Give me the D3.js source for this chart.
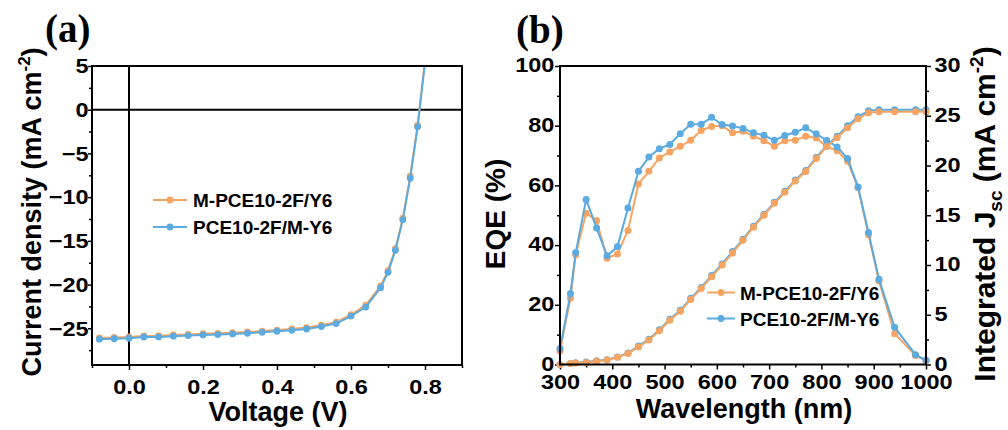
<!DOCTYPE html>
<meta charset="utf-8">
<style>
body { margin: 0; background: #fff; }
text { font-family: Arial, "Liberation Sans", sans-serif; font-weight: bold; fill: #000; }
.tick line { stroke: #000; stroke-width: 1.5px; }
.tick text { font-size: 21px; }
.domain { display: none; }
.frame { fill: none; stroke: #000; stroke-width: 2px; }
.curve { fill: none; stroke-width: 2px; }
</style>
<body>
<script src="https://d3js.org/d3.v7.min.js"></script>
<script>

// ---- data: J-V curves (panel a)
var voltage = [-0.08, -0.04, 0, 0.04, 0.08, 0.12, 0.16, 0.20, 0.24, 0.28, 0.32, 0.36, 0.40,
               0.44, 0.48, 0.52, 0.56, 0.60, 0.64, 0.68, 0.70, 0.72, 0.74, 0.76, 0.78, 0.80];
var jvOrange = [-26.1, -26.05, -26.0, -25.88, -25.85, -25.76, -25.7, -25.62, -25.58, -25.5, -25.42, -25.32, -25.2,
                -25.08, -24.92, -24.65, -24.3, -23.45, -22.35, -20.15, -18.4, -15.9, -12.4, -7.6, -1.8, 5.6];
var jvBlue = [-26.25, -26.2, -26.14, -26.0, -25.99, -25.9, -25.83, -25.76, -25.72, -25.65, -25.57, -25.46, -25.34,
              -25.23, -25.08, -24.8, -24.46, -23.6, -22.57, -20.36, -18.6, -16.08, -12.6, -7.84, -1.96, 5.4];

// ---- data: EQE and integrated Jsc (panel b)
var wavelength = [300, 320, 330, 350, 370, 390, 410, 430, 450, 470, 490, 510, 530, 550, 570, 590, 610, 630,
                  650, 670, 690, 710, 730, 750, 770, 790, 810, 830, 850, 870, 890, 910, 940, 980, 1000];
var eqeOrange = [4.5, 22.2, 36.8, 50.7, 48.2, 35.6, 37.0, 44.9, 60.5, 64.7, 69.2, 71.2, 73.1, 75.1, 78.4, 79.7, 80.0, 77.6,
                 78.1, 76.5, 75.0, 73.1, 75.0, 75.1, 76.5, 75.9, 73.1, 71.6, 68.1, 59.2, 43.5, 28.0, 10.3, 3.0, 1.2];
var eqeBlue = [5.4, 23.8, 37.5, 55.3, 45.7, 36.4, 39.5, 52.4, 64.7, 69.5, 72.3, 73.7, 77.3, 80.5, 80.5, 82.8, 80.4, 79.9,
               79.1, 77.6, 76.8, 75.1, 76.7, 77.8, 79.3, 77.3, 75.1, 72.9, 69.0, 59.5, 44.2, 28.6, 12.5, 3.3, 1.4];
var jscOrange = [0, 0.1, 0.15, 0.2, 0.33, 0.45, 0.73, 1.1, 1.77, 2.45, 3.4, 4.45, 5.36, 6.54, 7.64, 8.81, 9.99, 11.2,
                 12.5, 13.8, 15.0, 16.2, 17.3, 18.45, 19.4, 20.7, 21.9, 22.8, 23.8, 24.7, 25.3, 25.4, 25.4, 25.4, 25.4];
var jscBlue = [0, 0.1, 0.17, 0.25, 0.37, 0.48, 0.76, 1.15, 1.85, 2.55, 3.5, 4.55, 5.45, 6.65, 7.75, 8.95, 10.1, 11.35,
               12.6, 13.9, 15.1, 16.3, 17.4, 18.55, 19.5, 20.8, 22.0, 22.95, 24.0, 24.9, 25.5, 25.6, 25.6, 25.6, 25.6];

var seriesNames = ["M-PCE10-2F/Y6", "PCE10-2F/M-Y6"];
var orange = "#F6A462", blue = "#5BAAE0";

// ---- tick values
var xTicksA = [0, 0.2, 0.4, 0.6, 0.8], xMinorA = [-0.1, 0.1, 0.3, 0.5, 0.7, 0.9];
var yTicksA = [5, 0, -5, -10, -15, -20, -25], yMinorA = [2.5, -2.5, -7.5, -12.5, -17.5, -22.5, -27.5];
var xTicksB = [300, 400, 500, 600, 700, 800, 900, 1000], xMinorB = [350, 450, 550, 650, 750, 850, 950];
var yTicksB = [0, 20, 40, 60, 80, 100], yMinorB = [10, 30, 50, 70, 90];
var y2TicksB = [0, 5, 10, 15, 20, 25, 30], y2MinorB = [2.5, 7.5, 12.5, 17.5, 22.5, 27.5];

var svg = d3.select("body").append("svg")
    .attr("width", 1008)
    .attr("height", 430);

// tick labels in the reference are a bit wider than Arial
function widen(sel) { sel.selectAll("text").attr("transform", "scale(1.12,1)"); }

// ================= panel (a) =================
var xa = d3.scaleLinear().domain([-0.1, 0.9]).range([92, 462]);
var ya = d3.scaleLinear().domain([-29.2, 5]).range([365, 66]);

svg.append("clipPath").attr("id", "clipA")
  .append("rect").attr("x", 92).attr("y", 66).attr("width", 370).attr("height", 299);

// minor + major ticks
svg.append("g").attr("transform", "translate(0,365)")
    .call(d3.axisBottom(xa).tickValues(xMinorA).tickSize(3).tickFormat(""));
svg.append("g").attr("transform", "translate(0,365)")
    .call(d3.axisBottom(xa).tickValues(xTicksA).tickSize(5).tickPadding(9).tickFormat(d3.format(".1f")))
    .call(widen);
svg.append("g").attr("transform", "translate(92,0)")
    .call(d3.axisLeft(ya).tickValues(yMinorA).tickSize(3).tickFormat(""));
svg.append("g").attr("transform", "translate(92,0)")
    .call(d3.axisLeft(ya).tickValues(yTicksA).tickSize(4).tickFormat(d3.format("d")))
    .call(widen)
    .selectAll("text").attr("x", -3);

// zero lines
svg.append("line").attr("x1", xa(0)).attr("x2", xa(0)).attr("y1", 66).attr("y2", 365)
    .attr("stroke", "#000").attr("stroke-width", 2);
svg.append("line").attr("x1", 92).attr("x2", 462).attr("y1", ya(0)).attr("y2", ya(0))
    .attr("stroke", "#000").attr("stroke-width", 2);

var lineA = function(vals) {
  return d3.line().x(function(d, i) { return xa(voltage[i]); }).y(function(d) { return ya(d); })(vals);
};
[[jvOrange, orange], [jvBlue, blue]].forEach(function(s) {
  var g = svg.append("g").attr("clip-path", "url(#clipA)");
  g.append("path").attr("class", "curve").attr("stroke", s[1]).attr("d", lineA(s[0]));
  g.selectAll("circle").data(s[0]).enter().append("circle")
      .attr("cx", function(d, i) { return xa(voltage[i]); })
      .attr("cy", function(d) { return ya(d); })
      .attr("r", 3.4).attr("fill", s[1]);
});

svg.append("rect").attr("class", "frame").attr("x", 92).attr("y", 66).attr("width", 370).attr("height", 299);

// legend (a)
[orange, blue].forEach(function(c, i) {
  var yy = 200 + i * 27;
  svg.append("line").attr("x1", 153).attr("x2", 187).attr("y1", yy).attr("y2", yy)
      .attr("stroke", c).attr("stroke-width", 2);
  svg.append("circle").attr("cx", 170).attr("cy", yy).attr("r", 3.4).attr("fill", c);
  svg.append("text").attr("x", 193).attr("y", yy + 7).style("font-size", "19px").text(seriesNames[i]);
});

// labels (a)
svg.append("text").attr("x", 278).attr("y", 421).attr("text-anchor", "middle")
    .style("font-size", "27px").text("Voltage (V)");
var ylabA = svg.append("text").attr("transform", "translate(41,212) rotate(-90)")
    .attr("text-anchor", "middle").style("font-size", "27px");
ylabA.append("tspan").text("Current density (mA cm");
ylabA.append("tspan").attr("dy", -11).style("font-size", "17px").text("-2");
ylabA.append("tspan").attr("dy", 11).text(")");
svg.append("text").attr("x", 45).attr("y", 42)
    .style("font-family", "'Times New Roman', 'Liberation Serif', serif").style("font-size", "39px").text("(a)");

// ================= panel (b) =================
var xb = d3.scaleLinear().domain([300, 1000]).range([560, 926]);
var yb = d3.scaleLinear().domain([0, 100]).range([364.5, 66]);
var yb2 = d3.scaleLinear().domain([0, 30]).range([364.5, 66]);

svg.append("g").attr("transform", "translate(0,364.5)")
    .call(d3.axisBottom(xb).tickValues(xMinorB).tickSize(3).tickFormat(""));
svg.append("g").attr("transform", "translate(0,364.5)")
    .call(d3.axisBottom(xb).tickValues(xTicksB).tickSize(5).tickPadding(5).tickFormat(d3.format("d")))
    .call(widen);
svg.append("g").attr("transform", "translate(560,0)")
    .call(d3.axisLeft(yb).tickValues(yMinorB).tickSize(3).tickFormat(""));
svg.append("g").attr("transform", "translate(560,0)")
    .call(d3.axisLeft(yb).tickValues(yTicksB).tickSize(5).tickFormat(d3.format("d")))
    .call(widen)
    .selectAll("text").attr("x", -5).attr("dy", "0.28em");
svg.append("g").attr("transform", "translate(926,0)")
    .call(d3.axisRight(yb2).tickValues(y2MinorB).tickSize(3).tickFormat(""));
svg.append("g").attr("transform", "translate(926,0)")
    .call(d3.axisRight(yb2).tickValues(y2TicksB).tickSize(5).tickFormat(d3.format("d")))
    .call(widen)
    .selectAll("text").attr("x", 7.5).attr("dy", "0.28em");

var drawB = function(vals, scale, color) {
  var g = svg.append("g");
  g.append("path").attr("class", "curve").attr("stroke", color)
      .attr("d", d3.line().x(function(d, i) { return xb(wavelength[i]); }).y(function(d) { return scale(d); })(vals));
  g.selectAll("circle").data(vals).enter().append("circle")
      .attr("cx", function(d, i) { return xb(wavelength[i]); })
      .attr("cy", function(d) { return scale(d); })
      .attr("r", 3.5).attr("fill", color);
};
drawB(eqeOrange, yb, orange);
drawB(eqeBlue, yb, blue);
drawB(jscBlue, yb2, blue);
drawB(jscOrange, yb2, orange);

svg.append("rect").attr("class", "frame").attr("x", 560).attr("y", 66).attr("width", 366).attr("height", 298.5);

// legend (b)
[orange, blue].forEach(function(c, i) {
  var yy = 292.5 + i * 26;
  svg.append("line").attr("x1", 707).attr("x2", 735).attr("y1", yy).attr("y2", yy)
      .attr("stroke", c).attr("stroke-width", 2);
  svg.append("circle").attr("cx", 721).attr("cy", yy).attr("r", 3.4).attr("fill", c);
  svg.append("text").attr("x", 740).attr("y", yy + 7).style("font-size", "19px").text(seriesNames[i]);
});

// labels (b)
svg.append("text").attr("x", 744).attr("y", 418).attr("text-anchor", "middle")
    .style("font-size", "27px").text("Wavelength (nm)");
svg.append("text").attr("transform", "translate(505,214) rotate(-90)")
    .attr("text-anchor", "middle").style("font-size", "28px").text("EQE (%)");
var ylabB = svg.append("text").attr("transform", "translate(995,214) rotate(-90)")
    .attr("text-anchor", "middle").style("font-size", "30px");
ylabB.append("tspan").text("Integrated J");
ylabB.append("tspan").attr("dy", 7).style("font-size", "19px").text("sc");
ylabB.append("tspan").attr("dy", -7).text(" (mA cm");
ylabB.append("tspan").attr("dy", -12).style("font-size", "19px").text("-2");
ylabB.append("tspan").attr("dy", 12).text(")");
svg.append("text").attr("x", 516).attr("y", 43)
    .style("font-family", "'Times New Roman', 'Liberation Serif', serif").style("font-size", "39px").text("(b)");

</script>
</body>
